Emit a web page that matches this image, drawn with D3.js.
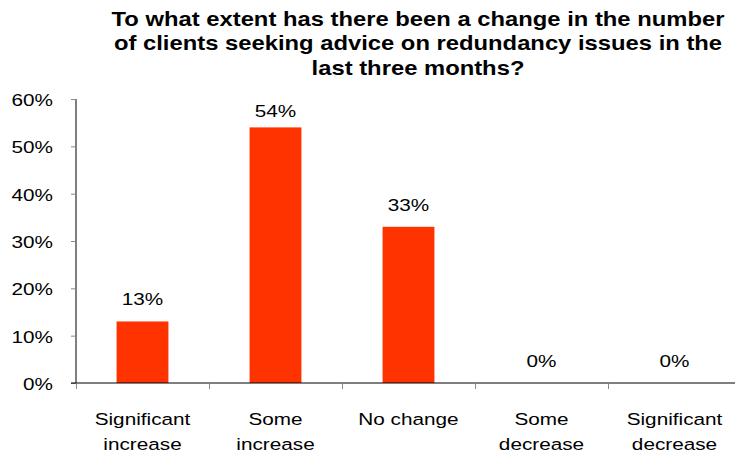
<!DOCTYPE html>
<html>
<head>
<meta charset="utf-8">
<script src="https://cdn.jsdelivr.net/npm/d3@7"></script>
<style>
  body { margin: 0; background: #fff; }
  svg { display: block; font-family: "Liberation Sans", Arial, sans-serif; }
</style>
</head>
<body>
<div id="app"></div>
<script>
const TITLE_LINES = [
  'To what extent has there been a change in the number',
  'of clients seeking advice on redundancy issues in the',
  'last three months?'
];
const categories = [
  ['Significant', 'increase'],
  ['Some', 'increase'],
  ['No change'],
  ['Some', 'decrease'],
  ['Significant', 'decrease']
];
const values = [0.13, 0.54, 0.33, 0, 0];
const yTicks = [0, 0.1, 0.2, 0.3, 0.4, 0.5, 0.6];

const WIDTH = 735;
const HEIGHT = 455;
const BAR_COLOR = '#ff3300';
// the source picture is stretched sideways, text included
const TEXT_STRETCH = 1.22;

// plot box runs past the right edge, like the source image
const plot = { left: 76, right: 741, top: 99, bottom: 383 };

const svg = d3.select('#app')
  .append('svg')
  .attr('width', WIDTH)
  .attr('height', HEIGHT);

const x = d3.scaleBand()
  .domain(d3.range(categories.length))
  .range([plot.left, plot.right])
  .paddingInner(0.61)
  .paddingOuter(0.305);

const xTickScale = d3.scaleLinear()
  .domain([0, categories.length])
  .range([plot.left, plot.right]);

const y = d3.scaleLinear()
  .domain([0, 0.6])
  .range([plot.bottom, plot.top]);

const fmt = d3.format('.0%');

function stretched(sel, px, py) {
  return sel.attr('transform', (d, i) => `translate(${px(d, i)},${py(d, i)}) scale(${TEXT_STRETCH},1)`);
}

// title
const title = svg.append('text')
  .attr('text-anchor', 'middle')
  .style('font-weight', 'bold')
  .style('font-size', '19.5px')
  .style('fill', '#000');
stretched(title, () => 418, () => 26);
title.selectAll('tspan')
  .data(TITLE_LINES)
  .join('tspan')
  .attr('x', 0)
  .attr('dy', (d, i) => i === 0 ? 0 : 24.5)
  .text(d => d);

// y axis
const yAxis = svg.append('g')
  .attr('transform', `translate(${plot.left},0)`)
  .call(d3.axisLeft(y).tickValues(yTicks).tickFormat(() => '').tickSize(5));

yAxis.select('.domain').attr('stroke', '#000').attr('d', `M0,${plot.top}V${plot.bottom}`);
yAxis.selectAll('.tick line').attr('stroke', '#888');
yAxis.selectAll('.tick text').remove();

stretched(
  svg.append('g').selectAll('text').data(yTicks).join('text'),
  () => 53,
  d => y(d) + 7
)
  .attr('text-anchor', 'end')
  .style('font-size', '17px')
  .style('fill', '#000')
  .text(fmt);

// bars
svg.append('g')
  .selectAll('rect')
  .data(values)
  .join('rect')
  .attr('x', (d, i) => x(i))
  .attr('width', x.bandwidth())
  .attr('y', d => y(d))
  .attr('height', d => y(0) - y(d))
  .attr('fill', BAR_COLOR);

// x axis
const xAxis = svg.append('g').attr('transform', `translate(0,${plot.bottom})`);
xAxis.append('line')
  .attr('x1', plot.left - 5)
  .attr('x2', plot.right)
  .attr('stroke', '#000');
xAxis.selectAll('line.tick')
  .data(d3.range(categories.length + 1))
  .join('line')
  .attr('class', 'tick')
  .attr('x1', d => Math.round(xTickScale(d)) + 0.5)
  .attr('x2', d => Math.round(xTickScale(d)) + 0.5)
  .attr('y1', 0)
  .attr('y2', 6)
  .attr('stroke', '#888');

stretched(
  xAxis.selectAll('text.cat').data(categories).join('text').attr('class', 'cat'),
  (d, i) => x(i) + x.bandwidth() / 2,
  () => 42
)
  .attr('text-anchor', 'middle')
  .style('font-size', '17px')
  .style('fill', '#000')
  .each(function (lines) {
    d3.select(this).selectAll('tspan')
      .data(lines)
      .join('tspan')
      .attr('x', 0)
      .attr('dy', (d, j) => j === 0 ? 0 : 25)
      .text(d => d);
  });

// value labels
stretched(
  svg.append('g').selectAll('text').data(values).join('text'),
  (d, i) => x(i) + x.bandwidth() / 2,
  d => Math.max(y(d) - 16, y(0.6) + 18)
)
  .attr('text-anchor', 'middle')
  .style('font-size', '17px')
  .style('fill', '#000')
  .text(fmt);
</script>
</body>
</html>
